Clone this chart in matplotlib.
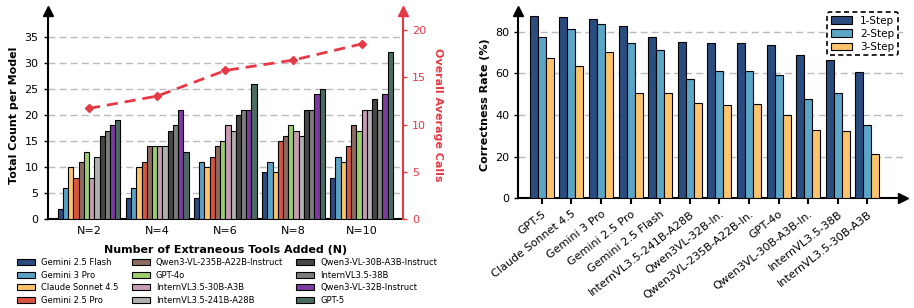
import matplotlib
matplotlib.use("Agg")
import matplotlib.pyplot as plt
import numpy as np

# ---------------- data: left chart ----------------
groups = ["N=2", "N=4", "N=6", "N=8", "N=10"]
models = ["Gemini 2.5 Flash", "Gemini 3 Pro", "Claude Sonnet 4.5", "Gemini 2.5 Pro",
          "Qwen3-VL-235B-A22B-Instruct", "GPT-4o", "InternVL3.5-30B-A3B", "InternVL3.5-241B-A28B",
          "Qwen3-VL-30B-A3B-Instruct", "InternVL3.5-38B", "Qwen3-VL-32B-Instruct", "GPT-5"]
counts = {
    "Gemini 2.5 Flash":            [2, 4, 4, 9, 8],
    "Gemini 3 Pro":                [6, 6, 11, 11, 12],
    "Claude Sonnet 4.5":           [10, 10, 10, 9, 11],
    "Gemini 2.5 Pro":              [8, 11, 12, 15, 14],
    "Qwen3-VL-235B-A22B-Instruct": [11, 14, 14, 16, 18],
    "GPT-4o":                      [13, 14, 15, 18, 17],
    "InternVL3.5-30B-A3B":         [8, 14, 18, 17, 21],
    "InternVL3.5-241B-A28B":       [12, 14, 17, 16, 21],
    "Qwen3-VL-30B-A3B-Instruct":   [16, 17, 20, 21, 23],
    "InternVL3.5-38B":             [17, 18, 21, 21, 21],
    "Qwen3-VL-32B-Instruct":       [18, 21, 21, 24, 24],
    "GPT-5":                       [19, 13, 26, 25, 32],
}
avg_calls = [11.7, 13.0, 15.7, 16.8, 18.5]

# ---------------- data: right chart ----------------
models_r = ["GPT-5", "Claude Sonnet 4.5", "Gemini 3 Pro", "Gemini 2.5 Pro", "Gemini 2.5 Flash",
            "InternVL3.5-241B-A28B", "Qwen3VL-32B-In.", "Qwen3VL-235B-A22B-In.", "GPT-4o",
            "Qwen3VL-30B-A3B-In.", "InternVL3.5-38B", "InternVL3.5-30B-A3B"]
step1 = [87.3, 87.0, 86.2, 82.7, 77.6, 75.0, 74.4, 74.4, 73.7, 68.8, 66.3, 60.4]
step2 = [77.6, 81.2, 83.7, 74.4, 71.3, 57.1, 60.9, 61.2, 59.1, 47.6, 50.6, 35.1]
step3 = [67.3, 63.6, 70.4, 50.6, 50.6, 45.7, 44.7, 45.4, 40.1, 32.7, 32.1, 21.2]
step_labels = ["1-Step", "2-Step", "3-Step"]

# ---------------- styles ----------------
model_colors = ["#2b4c7e", "#5ba3c5", "#fdc46b", "#d9553f", "#8c6b62", "#9ccf6c",
                "#c89bb5", "#b0b0b0", "#464646", "#7d7d7d", "#7d3a9f", "#4b6c64"]
step_colors = ["#2b4c7e", "#5ba5c6", "#fdc46b"]
red = "#e63946"

plt.rcParams["font.family"] = ["DejaVu Sans"]
fig = plt.figure(figsize=(9.14, 3.08), dpi=100)

# ================= left chart =================
ax = fig.add_axes([0.052, 0.288, 0.389, 0.677])
x = np.arange(len(groups))
nb = len(models)
bw = 0.92 / nb
for i, m in enumerate(models):
    ax.bar(x - 0.46 + bw * (i + 0.5), counts[m], width=bw, color=model_colors[i],
           edgecolor="black", linewidth=0.8, label=m, zorder=3)
ax.set_xlim(-0.61, 4.61)
ax.set_ylim(0, 40)
ax.set_yticks(range(0, 40, 5))
ax.set_xticks(x)
ax.set_xticklabels(groups, fontsize=8)
ax.tick_params(axis="x", length=0, pad=5)
ax.tick_params(axis="y", labelsize=8, width=1, length=3)
ax.yaxis.grid(True, linestyle=(0, (5, 3)), color="#bbbbbb", linewidth=1, zorder=0)
ax.set_axisbelow(True)
for s in ["top", "right"]:
    ax.spines[s].set_visible(False)
ax.spines["left"].set_linewidth(1.5)
ax.spines["bottom"].set_linewidth(1.5)
ax.plot(0, 1, marker="^", color="black", markersize=7, transform=ax.transAxes, clip_on=False)
ax.set_ylabel("Total Count per Model", fontsize=8, fontweight="bold")
ax.set_xlabel("Number of Extraneous Tools Added (N)", fontsize=8, fontweight="bold", labelpad=6)

ax2 = ax.twinx()
ax2.plot(x, avg_calls, linestyle=(0, (4, 2.5)), color=red, linewidth=2, marker="D",
         markersize=4, zorder=5)
ax2.set_ylim(0, 22)
ax2.set_yticks(range(0, 21, 5))
for s in ["top", "left", "bottom"]:
    ax2.spines[s].set_visible(False)
ax2.spines["right"].set_color(red)
ax2.spines["right"].set_linewidth(1.5)
ax2.tick_params(axis="y", colors=red, labelsize=8, width=1, length=3)
ax2.plot(1, 1, marker="^", color=red, markersize=7, transform=ax2.transAxes, clip_on=False)
ax2.set_ylabel("Overall Average Calls", fontsize=8, fontweight="bold", color=red,
               rotation=270, labelpad=12)

handles, labels = ax.get_legend_handles_labels()
fig.legend(handles, labels, loc="upper left", bbox_to_anchor=(0.0186, 0.162), ncol=3,
           frameon=False, fontsize=6, handlelength=2.16, handleheight=0.8,
           handletextpad=0.72, columnspacing=1.6, labelspacing=0.42,
           borderpad=0, borderaxespad=0)

# ================= right chart =================
axr = fig.add_axes([0.567, 0.356, 0.421, 0.609])
xr = np.arange(len(models_r))
bw2 = 0.27
for j, (vals, c, lab) in enumerate(zip([step1, step2, step3], step_colors, step_labels)):
    axr.bar(xr + (j - 1) * bw2, vals, width=bw2, color=c, edgecolor="black",
            linewidth=0.8, label=lab, zorder=3)
axr.set_xlim(-0.79, 12.2)
axr.set_ylim(0, 90)
axr.set_yticks([0, 20, 40, 60, 80])
axr.set_xticks(xr)
axr.set_xticklabels(models_r, rotation=38, ha="right", rotation_mode="anchor", fontsize=8)
axr.tick_params(axis="x", length=4, width=1.5, direction="out")
axr.tick_params(axis="y", labelsize=8, width=1, length=3)
axr.yaxis.grid(True, linestyle=(0, (5, 3)), color="#bbbbbb", linewidth=1, zorder=0)
axr.set_axisbelow(True)
for s in ["top", "right"]:
    axr.spines[s].set_visible(False)
axr.spines["left"].set_linewidth(1.5)
axr.spines["bottom"].set_linewidth(1.5)
axr.plot(0, 1, marker="^", color="black", markersize=7, transform=axr.transAxes, clip_on=False)
axr.plot(1, 0, marker=">", color="black", markersize=7, transform=axr.transAxes, clip_on=False)
axr.set_ylabel("Correctness Rate (%)", fontsize=8, fontweight="bold")
leg = axr.legend(loc="upper right", bbox_to_anchor=(0.987, 0.994), fontsize=7.5, frameon=True,
                 fancybox=True, edgecolor="black", handlelength=2.0, borderpad=0.35,
                 labelspacing=0.3, borderaxespad=0)
leg.get_frame().set_linestyle((0, (3, 2)))
leg.get_frame().set_linewidth(1.2)
leg.get_frame().set_alpha(1)

fig.savefig("out.png", dpi=100)
